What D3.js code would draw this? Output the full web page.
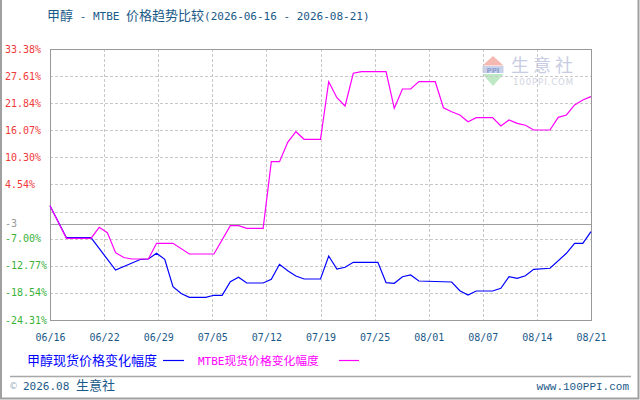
<!DOCTYPE html>
<html>
<head>
<meta charset="utf-8">
<script src="https://cdn.jsdelivr.net/npm/d3@7"></script>
<style>
  body { margin: 0; background: #fff; }
  svg { display: block; }
</style>
</head>
<body>
<div id="chart"></div>
<script>
var year = "2026";
var startDate = "06-16", endDate = "08-21";

var xTickLabels = ["06/16", "06/22", "06/29", "07/05", "07/12", "07/19", "07/25", "08/01", "08/07", "08/14", "08/21"];

var yTickValues = [33.38, 27.61, 21.84, 16.07, 10.30, 4.54, -1.23, -7.00, -12.77, -18.54, -24.31];
var yTickLabels = ["33.38%", "27.61%", "21.84%", "16.07%", "10.30%", "4.54%", "", "-7.00%", "-12.77%", "-18.54%", "-24.31%"];

var refValue = -3.8, refLabel = "-3";

var seriesNames = ["甲醇现货价格变化幅度", "MTBE现货价格变化幅度"];

var methanolDates = ["06-16", "06-18", "06-21", "06-24", "06-27", "06-28", "06-29", "06-30", "07-01", "07-02",
                     "07-03", "07-05", "07-06", "07-07", "07-08", "07-09", "07-10", "07-12", "07-13", "07-14",
                     "07-15", "07-16", "07-17", "07-19", "07-20", "07-21", "07-22", "07-23", "07-26", "07-27",
                     "07-28", "07-29", "07-30", "07-31", "08-04", "08-05", "08-06", "08-07", "08-09", "08-10",
                     "08-11", "08-12", "08-13", "08-14", "08-16", "08-18", "08-19", "08-20", "08-21"];
var methanolValues = [0, -6.79, -6.79, -13.67, -11.43, -11.32, -10.11, -11.39, -17.22, -18.67,
                      -19.48, -19.48, -19.05, -19.05, -16.16, -15.22, -16.43, -16.43, -15.65, -12.45,
                      -13.82, -14.94, -15.58, -15.58, -10.69, -13.45, -13.09, -12.03, -12.03, -16.37,
                      -16.50, -15.09, -14.73, -16.01, -16.22, -18.07, -18.99, -18.14, -18.14, -17.56,
                      -15.09, -15.43, -14.88, -13.52, -13.30, -10.11, -7.98, -7.98, -5.51];

var mtbeDates = ["06-16", "06-18", "06-21", "06-22", "06-23", "06-24", "06-25", "06-26", "06-28", "06-29",
                 "07-01", "07-03", "07-06", "07-08", "07-09", "07-10", "07-12", "07-13", "07-14", "07-15",
                 "07-16", "07-17", "07-19", "07-20", "07-21", "07-22", "07-23", "07-24", "07-27", "07-28",
                 "07-29", "07-30", "07-31", "08-02", "08-03", "08-04", "08-05", "08-06", "08-07", "08-09",
                 "08-10", "08-11", "08-12", "08-13", "08-14", "08-16", "08-17", "08-18", "08-19", "08-20",
                 "08-21"];
var mtbeValues = [0, -6.92, -6.92, -4.58, -5.73, -9.98, -11.01, -11.32, -11.32, -7.98,
                  -7.98, -10.26, -10.26, -4.24, -4.24, -4.79, -4.79, 9.39, 9.39, 13.52,
                  15.77, 14.16, 14.16, 26.42, 23.01, 21.25, 28.21, 28.55, 28.55, 20.76,
                  24.86, 24.86, 26.46, 26.42, 20.88, 20.03, 19.33, 17.90, 18.76, 18.76,
                  16.99, 18.27, 17.56, 17.14, 16.14, 16.14, 18.84, 19.33, 21.46, 22.52,
                  23.23];

var W = 640, H = 400;
var plot = { left: 50, right: 591, top: 49, bottom: 320 };

var textBlue = "#1b5a88";
var monoFont = "'DejaVu Sans Mono', monospace";
var cjkFont = "'Noto Sans CJK SC', sans-serif";

var parseDate = d3.timeParse("%Y-%m-%d");
function toDate(md) { return parseDate(year + "-" + md); }

var svg = d3.select("#chart").append("svg")
    .attr("width", W)
    .attr("height", H);

// latin and chinese runs as separate texts, laid out one after another
function mixedText(parent, str, left, top, latinSize, cjkSize, color) {
    var g = parent.append("g").attr("fill", color);
    var runs = str.match(/[\u3000-\u9fff]+|[^\u3000-\u9fff]+/g);
    var cx = left;
    runs.forEach(function(r) {
        var cjk = /[\u3000-\u9fff]/.test(r);
        var t = g.append("text")
            .attr("x", cx)
            .attr("y", top)
            .attr("font-family", cjk ? cjkFont : monoFont)
            .attr("font-size", cjk ? cjkSize : latinSize)
            .style("white-space", "pre")
            .text(r);
        cx += t.node().getComputedTextLength();
    });
    return g;
}

// outer frame (no top edge)
svg.append("path")
    .attr("d", "M1,0V398.5H638.5V0")
    .attr("fill", "none")
    .attr("stroke", "#a0a0a0")
    .attr("stroke-width", 2);

mixedText(svg, "甲醇 - MTBE 价格趋势比较(" + year + "-" + startDate + " - " + year + "-" + endDate + ")",
    47, 20, 11, 13, textBlue);

var x = d3.scaleTime()
    .domain([toDate(startDate), toDate(endDate)])
    .range([plot.left, plot.right]);

var y = d3.scaleLinear()
    .domain([yTickValues[yTickValues.length - 1], yTickValues[0]])
    .range([plot.bottom, plot.top]);

var span = x.domain()[1] - x.domain()[0];
var xTickDates = xTickLabels.map(function(l, i) {
    return new Date(+x.domain()[0] + span * i / (xTickLabels.length - 1));
});

// watermark
var wm = svg.append("g").attr("class", "watermark");
wm.append("path").attr("d", "M493,56L503.5,65.5H482.5Z").attr("fill", "#f5b9b2");
wm.append("rect").attr("x", 482.5).attr("y", 66).attr("width", 21).attr("height", 7).attr("fill", "#c9d2ea");
wm.append("text").attr("x", 493).attr("y", 72.5).attr("text-anchor", "middle")
    .attr("font-family", "'DejaVu Sans', sans-serif").attr("font-size", 7).attr("font-weight", "bold")
    .attr("fill", "#8f9fd0").text("PPI");
wm.append("path").attr("d", "M482.5,74H503.5L493,86Z").attr("fill", "#bfe8c4");
wm.append("text").attr("x", 511).attr("y", 72).attr("font-family", cjkFont).attr("font-size", 18)
    .attr("letter-spacing", 4).attr("fill", "#c8cde3").text("生意社");
wm.append("text").attr("x", 513).attr("y", 85).attr("font-family", "'DejaVu Sans', sans-serif")
    .attr("font-size", 8.5).attr("fill", "#d0d3e0").attr("textLength", 60).text("100PPI.COM");

// grid
var grid = svg.append("g").attr("class", "grid")
    .attr("stroke", "#c8c8c8")
    .attr("stroke-dasharray", "3,2")
    .attr("shape-rendering", "crispEdges");

grid.selectAll("line.h")
    .data(yTickValues.slice(1, -1))
    .enter().append("line")
        .attr("class", "h")
        .attr("x1", plot.left).attr("x2", plot.right)
        .attr("y1", function(d) { return Math.round(y(d)) + 0.5; })
        .attr("y2", function(d) { return Math.round(y(d)) + 0.5; });

grid.selectAll("line.v")
    .data(xTickDates.slice(1, -1))
    .enter().append("line")
        .attr("class", "v")
        .attr("y1", plot.top).attr("y2", plot.bottom)
        .attr("x1", function(d) { return Math.round(x(d)) + 0.5; })
        .attr("x2", function(d) { return Math.round(x(d)) + 0.5; });

// reference line
svg.append("line")
    .attr("x1", plot.left).attr("x2", plot.right)
    .attr("y1", Math.round(y(refValue)) + 0.5)
    .attr("y2", Math.round(y(refValue)) + 0.5)
    .attr("stroke", "#a0a0a0")
    .attr("shape-rendering", "crispEdges");

// y labels, left aligned
svg.append("g").selectAll("text")
    .data(yTickValues)
    .enter().append("text")
        .attr("x", 5)
        .attr("y", function(d) { return y(d); })
        .attr("dy", "0.36em")
        .attr("font-family", monoFont)
        .attr("font-size", 10)
        .attr("fill", function(d) { return d >= 0 ? "#f03a3a" : "#3ab23a"; })
        .text(function(d, i) { return yTickLabels[i]; });

svg.append("text")
    .attr("x", 5)
    .attr("y", y(refValue))
    .attr("dy", "0.36em")
    .attr("font-family", monoFont)
    .attr("font-size", 10)
    .attr("fill", "#999")
    .text(refLabel);

// x axis labels
var xAxis = d3.axisBottom(x)
    .tickValues(xTickDates)
    .tickSize(0)
    .tickPadding(0)
    .tickFormat(function(d, i) { return xTickLabels[i]; });

var xg = svg.append("g")
    .attr("transform", "translate(0," + (plot.bottom + 21) + ")")
    .call(xAxis);
xg.select(".domain").remove();
xg.selectAll("text")
    .attr("dy", 0)
    .attr("font-family", monoFont)
    .attr("font-size", 10)
    .attr("fill", textBlue);

// plot border
svg.append("rect")
    .attr("x", plot.left + 0.5)
    .attr("y", plot.top + 0.5)
    .attr("width", plot.right - plot.left)
    .attr("height", plot.bottom - plot.top)
    .attr("fill", "none")
    .attr("stroke", "#999")
    .attr("stroke-width", 1.4)
    .attr("shape-rendering", "crispEdges");

// series
var line = d3.line()
    .x(function(d) { return x(d.date); })
    .y(function(d) { return y(d.value); });

function buildSeries(dates, values) {
    return dates.map(function(d, i) { return { date: toDate(d), value: values[i] }; });
}

var methanol = buildSeries(methanolDates, methanolValues);
var mtbe = buildSeries(mtbeDates, mtbeValues);

svg.append("path")
    .datum(methanol)
    .attr("d", line)
    .attr("fill", "none")
    .attr("stroke", "#0000ff")
    .attr("stroke-width", 1.2);

svg.append("path")
    .datum(mtbe)
    .attr("d", line)
    .attr("fill", "none")
    .attr("stroke", "#ff00ff")
    .attr("stroke-width", 1.2);

// legend
mixedText(svg, seriesNames[0], 27, 365, 11, 13, "#0000ff");
svg.append("line")
    .attr("x1", 163).attr("x2", 184).attr("y1", 360.5).attr("y2", 360.5)
    .attr("stroke", "#0000ff").attr("stroke-width", 1.2);

mixedText(svg, seriesNames[1], 198, 365, 11, 11.8, "#ff00ff");
svg.append("line")
    .attr("x1", 339).attr("x2", 359).attr("y1", 360.5).attr("y2", 360.5)
    .attr("stroke", "#ff00ff").attr("stroke-width", 1.2);

// footer
svg.append("line")
    .attr("x1", 10).attr("x2", 631).attr("y1", 376.5).attr("y2", 376.5)
    .attr("stroke", "#a8a8a8")
    .attr("stroke-width", 1.5);

svg.append("text")
    .attr("x", 9).attr("y", 389)
    .attr("font-family", "'DejaVu Sans', sans-serif")
    .attr("font-size", 9)
    .attr("fill", "#9ab0c0")
    .text("©");
mixedText(svg, "2026.08 生意社", 23, 390, 11, 13, textBlue);

svg.append("text")
    .attr("x", 629).attr("y", 390)
    .attr("text-anchor", "end")
    .attr("font-family", "'Liberation Mono', monospace")
    .attr("font-size", 11)
    .attr("fill", textBlue)
    .text("www.100PPI.com");
</script>
</body>
</html>
